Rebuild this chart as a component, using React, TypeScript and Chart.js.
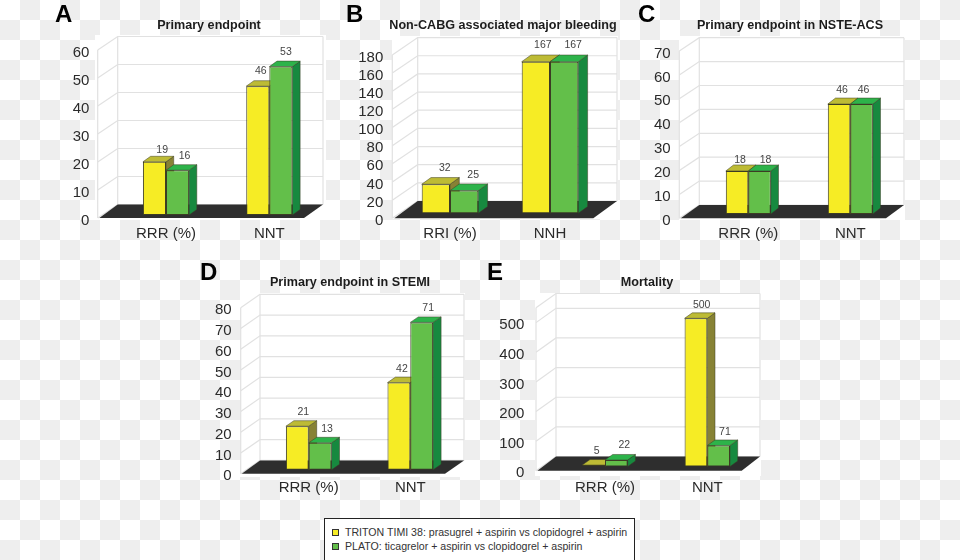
import React, { useEffect, useRef } from "react";
import { Chart, registerables } from "chart.js";

Chart.register(...registerables);

const FONT = "'Liberation Sans', Arial, sans-serif";

// ---- data ----
const titleA = "Primary endpoint";
const titleB = "Non-CABG associated major bleeding";
const titleC = "Primary endpoint in NSTE-ACS";
const titleD = "Primary endpoint in STEMI";
const titleE = "Mortality";

const categoriesA = ["RRR (%)", "NNT"];
const categoriesB = ["RRI (%)", "NNH"];
const categoriesC = ["RRR (%)", "NNT"];
const categoriesD = ["RRR (%)", "NNT"];
const categoriesE = ["RRR (%)", "NNT"];

const tritonA = [19, 46];
const platoA = [16, 53];
const tritonB = [32, 167];
const platoB = [25, 167];
const tritonC = [18, 46];
const platoC = [18, 46];
const tritonD = [21, 42];
const platoD = [13, 71];
const tritonE = [5, 500];
const platoE = [22, 71];

const ticksA = [0, 10, 20, 30, 40, 50, 60];
const ticksB = [0, 20, 40, 60, 80, 100, 120, 140, 160, 180];
const ticksC = [0, 10, 20, 30, 40, 50, 60, 70];
const ticksD = [0, 10, 20, 30, 40, 50, 60, 70, 80];
const ticksE = [0, 100, 200, 300, 400, 500];

const seriesTriton = "TRITON TIMI 38: prasugrel + aspirin vs clopidogrel + aspirin";
const seriesPlato = "PLATO: ticagrelor + aspirin vs clopidogrel + aspirin";

// ---- styles ----
const YELLOW = { front: "#F6EC25", top: "#BDBB35", side: "#878235" };
const GREEN = { front: "#63BF4A", top: "#2DB34A", side: "#17893F" };
const EDGE = "#3c3c24";
const GRID = "#e1e1e1";

type Panel = {
  letter: string; letterX: number; letterY: number;
  title: string; categories: string[]; triton: number[]; plato: number[]; ticks: number[]; max: number;
  canvas: { x: number; y: number; w: number; h: number };
  titleX: number; titleY: number;
  plot: { l: number; r: number; t: number; b: number };
  white: { l: number; r: number; t: number; b: number };
  frontX: number; backX: number; wallR: number; floorL: number; floorR: number;
  frontDy: number; backDy: number; depthX: number; depthY: number;
  tickPad: number; catPad: number; catPct: number;
  nudge: number[][][];
};

const panels: Panel[] = [
  {
    letter: "A", letterX: 55, letterY: 2, title: titleA, categories: categoriesA, triton: tritonA, plato: platoA, ticks: ticksA, max: 60,
    canvas: { x: 60, y: 0, w: 298, h: 250 }, titleX: 209, titleY: 25.3,
    plot: { l: 114.35, r: 321, t: 47, b: 215 }, white: { l: 95, r: 326, t: 35, b: 220 },
    frontX: 97.7, backX: 117.7, wallR: 323, floorL: 99.3, floorR: 304,
    frontDy: 3, backDy: -10.5, depthX: 7.7, depthY: 5.5, tickPad: 25, catPad: 9.5, catPct: 0.447,
    nudge: [[[7.7, -11.5], [3, -15]], [[7, -14.5], [5, -14.7]]],
  },
  {
    letter: "B", letterX: 346, letterY: 2, title: titleB, categories: categoriesB, triton: tritonB, plato: platoB, ticks: ticksB, max: 180,
    canvas: { x: 350, y: 0, w: 306, h: 250 }, titleX: 503, titleY: 25.3,
    plot: { l: 400, r: 600, t: 49.9, b: 213.3 }, white: { l: 392, r: 618, t: 36, b: 219 },
    frontX: 392.3, backX: 417.7, wallR: 617, floorL: 394.3, floorR: 593.3,
    frontDy: 5, backDy: -12.3, depthX: 9.3, depthY: 6.7, tickPad: 16.7, catPad: 11.5, catPct: 0.566,
    nudge: [[[9, -15.7], [7, -16.7]], [[9, -15], [9, -16.7]]],
  },
  {
    letter: "C", letterX: 638, letterY: 2, title: titleC, categories: categoriesC, triton: tritonC, plato: platoC, ticks: ticksC, max: 70,
    canvas: { x: 650, y: 0, w: 280, h: 250 }, titleX: 790, titleY: 25.3,
    plot: { l: 697.3, r: 901.3, t: 46.7, b: 214 }, white: { l: 679, r: 905, t: 36, b: 220 },
    frontX: 679.3, backX: 699.3, wallR: 904, floorL: 680.7, floorR: 886,
    frontDy: 4.3, backDy: -9, depthX: 7.7, depthY: 6, tickPad: 26.6, catPad: 10.8, catPct: 0.441,
    nudge: [[[3, -10.7], [3, -14]], [[6, -10.7], [2, -14]]],
  },
  {
    letter: "D", letterX: 200, letterY: 260, title: titleD, categories: categoriesD, triton: tritonD, plato: platoD, ticks: ticksD, max: 80,
    canvas: { x: 205, y: 255, w: 290, h: 250 }, titleX: 350, titleY: 282.3,
    plot: { l: 257.9, r: 461.1, t: 303.7, b: 471.7 }, white: { l: 240, r: 465, t: 293, b: 477 },
    frontX: 240.7, backX: 260, wallR: 464, floorL: 241.7, floorR: 445,
    frontDy: 4, backDy: -9.4, depthX: 8, depthY: 5.5, tickPad: 26.2, catPad: 9.1, catPct: 0.449,
    nudge: [[[6, -14], [3, -13.6]], [[7, -14], [6.5, -14.4]]],
  },
  {
    letter: "E", letterX: 487, letterY: 260, title: titleE, categories: categoriesE, triton: tritonE, plato: platoE, ticks: ticksE, max: 550,
    canvas: { x: 495, y: 255, w: 304, h: 250 }, titleX: 647, titleY: 282.3,
    plot: { l: 553.85, r: 758.45, t: 303.5, b: 469 }, white: { l: 535, r: 761, t: 293, b: 476 },
    frontX: 536, backX: 556, wallR: 760, floorL: 537.3, floorR: 741.7,
    frontDy: 4.3, backDy: -10, depthX: 7.7, depthY: 5.5, tickPad: 29.5, catPad: 12.8, catPct: 0.444,
    nudge: [[[3, -14], [5.7, -13.3]], [[8, -15], [6.3, -13.3]]],
  },
];

const poly = (ctx: CanvasRenderingContext2D, pts: number[][], fill: string) => {
  ctx.beginPath();
  pts.forEach((p, i) => (i ? ctx.lineTo(p[0], p[1]) : ctx.moveTo(p[0], p[1])));
  ctx.closePath();
  ctx.fillStyle = fill;
  ctx.fill();
  ctx.lineWidth = 0.5;
  ctx.strokeStyle = EDGE;
  ctx.stroke();
};

const makeScenePlugin = (p: Panel) => {
  const ox = p.canvas.x;
  const oy = p.canvas.y;
  return {
    id: "scene3d",
    beforeDraw(chart: any) {
      const ctx = chart.ctx;
      ctx.save();
      ctx.fillStyle = "#ffffff";
      ctx.fillRect(p.white.l - ox, p.white.t - oy, p.white.r - p.white.l, p.white.b - p.white.t);
      ctx.font = `bold 12.6px ${FONT}`;
      ctx.fillStyle = "#1c1c1c";
      ctx.textAlign = "center";
      ctx.textBaseline = "middle";
      ctx.fillText(p.title, p.titleX - ox, p.titleY - oy);
      ctx.restore();
    },
    beforeDatasetsDraw(chart: any) {
      const ctx = chart.ctx;
      const y = chart.scales.y;
      const fx = p.frontX - ox;
      const bx = p.backX - ox;
      const rx = p.wallR - ox;
      const front = (v: number) => y.getPixelForValue(v) + p.frontDy;
      const back = (v: number) => y.getPixelForValue(v) + p.backDy;
      ctx.save();
      ctx.strokeStyle = GRID;
      ctx.lineWidth = 1.2;
      const levels = p.ticks.includes(p.max) ? p.ticks : [...p.ticks, p.max];
      levels.forEach((v) => {
        ctx.beginPath();
        ctx.moveTo(fx, front(v));
        ctx.lineTo(bx, back(v));
        ctx.lineTo(rx, back(v));
        ctx.stroke();
      });
      ctx.beginPath();
      ctx.moveTo(fx, front(0));
      ctx.lineTo(fx, front(p.max));
      ctx.moveTo(bx, back(0));
      ctx.lineTo(bx, back(p.max));
      ctx.moveTo(rx, back(0));
      ctx.lineTo(rx, back(p.max));
      ctx.stroke();
      // floor
      ctx.beginPath();
      ctx.moveTo(p.floorL - ox, front(0));
      ctx.lineTo(bx, back(0));
      ctx.lineTo(rx, back(0));
      ctx.lineTo(p.floorR - ox, front(0));
      ctx.closePath();
      ctx.fillStyle = "#2e2e2e";
      ctx.fill();
      // bar depth: sides and tops, series by series
      [YELLOW, GREEN].forEach((c, ds) => {
        chart.getDatasetMeta(ds).data.forEach((el: any) => {
          const l = el.x - el.width / 2;
          const r = el.x + el.width / 2;
          const t = el.y;
          const base = el.base;
          const dx = p.depthX;
          const dy = p.depthY;
          poly(ctx, [[r, t], [r + dx, t - dy], [r + dx, base - dy], [r, base]], c.side);
          poly(ctx, [[l, t], [l + dx, t - dy], [r + dx, t - dy], [r, t]], c.top);
        });
      });
      ctx.restore();
    },
    afterDatasetsDraw(chart: any) {
      const ctx = chart.ctx;
      ctx.save();
      ctx.font = `10.5px ${FONT}`;
      ctx.fillStyle = "#444444";
      ctx.textAlign = "center";
      ctx.textBaseline = "middle";
      [p.triton, p.plato].forEach((vals, ds) => {
        chart.getDatasetMeta(ds).data.forEach((el: any, i: number) => {
          const n = p.nudge[ds][i];
          ctx.fillText(String(vals[i]), el.x + n[0], el.y + n[1]);
        });
      });
      ctx.restore();
    },
  };
};

function PanelChart({ panel }: { panel: Panel }) {
  const ref = useRef<HTMLCanvasElement | null>(null);
  useEffect(() => {
    const { canvas: c, plot } = panel;
    const chart = new Chart(ref.current as HTMLCanvasElement, {
      type: "bar",
      data: {
        labels: panel.categories,
        datasets: [
          { label: seriesTriton, data: panel.triton, backgroundColor: YELLOW.front, borderColor: EDGE, borderWidth: 1, borderSkipped: false },
          { label: seriesPlato, data: panel.plato, backgroundColor: GREEN.front, borderColor: EDGE, borderWidth: 1, borderSkipped: false },
        ],
      },
      options: {
        animation: false,
        responsive: false,
        maintainAspectRatio: false,
        layout: { padding: { left: 0, top: plot.t - c.y, right: c.x + c.w - plot.r, bottom: 0 } },
        datasets: { bar: { barPercentage: 1, categoryPercentage: panel.catPct } },
        plugins: {
          legend: { display: false },
          tooltip: { enabled: false },
        },
        scales: {
          x: {
            grid: { display: false, drawTicks: false },
            border: { display: false },
            ticks: { color: "#2b2b2b", font: { family: FONT, size: 15 }, padding: panel.catPad, maxRotation: 0, autoSkip: false },
            afterFit: (s: any) => { s.height = c.y + c.h - plot.b; },
          },
          y: {
            min: 0,
            max: panel.max,
            grid: { display: false, drawTicks: false },
            border: { display: false },
            ticks: { color: "#2b2b2b", font: { family: FONT, size: 15 }, padding: panel.tickPad, labelOffset: panel.frontDy + 2.5, autoSkip: false },
            afterBuildTicks: (s: any) => { s.ticks = panel.ticks.map((value) => ({ value })); },
            afterFit: (s: any) => { s.width = plot.l - c.x; },
          },
        },
      } as any,
      plugins: [makeScenePlugin(panel)],
    });
    return () => chart.destroy();
  }, [panel]);
  const { x, y, w, h } = panel.canvas;
  return <canvas ref={ref} width={w} height={h} style={{ position: "absolute", left: x, top: y, width: w, height: h, filter: "blur(0.35px)" }} />;
}

const swatch = (color: string): React.CSSProperties => ({
  position: "absolute", left: 7, width: 5, height: 5, background: color, border: "1.5px solid #333",
});
const legendText: React.CSSProperties = {
  position: "absolute", left: 20, fontSize: 10.6, lineHeight: "14px", color: "#333", whiteSpace: "nowrap",
};

export default function App() {
  return (
    <div
      style={{
        position: "fixed", left: 0, top: 0, width: 960, height: 560, overflow: "hidden", fontFamily: FONT,
        background: "repeating-conic-gradient(#eeeeee 0 25%, #ffffff 0 50%) 0 0 / 40px 40px",
      }}
    >
      {panels.map((p) => <PanelChart key={p.letter} panel={p} />)}
      {panels.map((p) => (
        <div key={p.letter} style={{ position: "absolute", left: p.letterX, top: p.letterY, fontSize: 24, lineHeight: "24px", fontWeight: 700, color: "#000" }}>
          {p.letter}
        </div>
      ))}
      <div style={{ position: "absolute", left: 324, top: 518, width: 309, height: 44, background: "#fff", border: "1.5px solid #222" }}>
        <div style={{ ...swatch(YELLOW.front), top: 10 }} />
        <div style={{ ...legendText, top: 6 }}>{seriesTriton}</div>
        <div style={{ ...swatch(GREEN.front), top: 24 }} />
        <div style={{ ...legendText, top: 20 }}>{seriesPlato}</div>
      </div>
    </div>
  );
}
